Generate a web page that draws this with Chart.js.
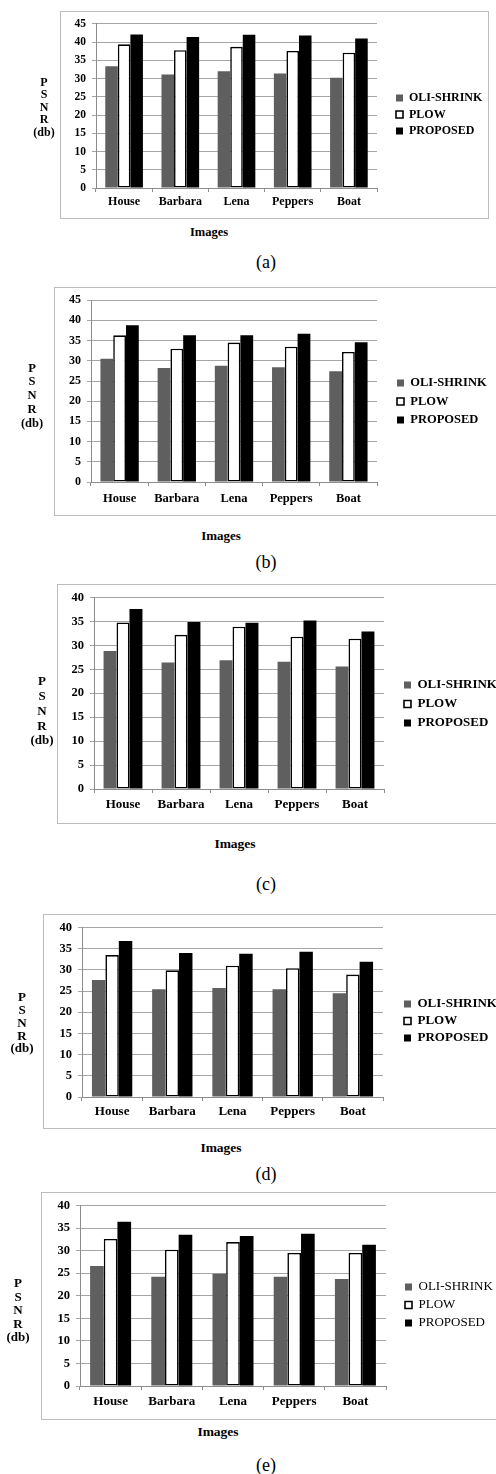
<!DOCTYPE html>
<html>
<head>
<meta charset="utf-8">
<title>PSNR comparison</title>
<script src="https://cdn.jsdelivr.net/npm/chart.js@4.4.1/dist/chart.umd.min.js"></script>
<style>
  html, body { margin: 0; padding: 0; background: #fff; }
  body { width: 496px; height: 1474px; position: relative; overflow: hidden; font-family: "Liberation Serif", "Times New Roman", serif; color: #000; }
  .frame { position: absolute; box-sizing: border-box; border: 1.5px solid #bdbdbd; }
  .wrap { position: absolute; }
  .txt { position: absolute; text-align: center; white-space: pre-line; }
</style>
</head>
<body>
<script>
// ---- data ----
const categories = ['House', 'Barbara', 'Lena', 'Peppers', 'Boat'];
const seriesNames = ['OLI-SHRINK', 'PLOW', 'PROPOSED'];
const yTitleLines = ['P', 'S', 'N', 'R', '(db)'];
const xTitle = 'Images';
const captions = ['(a)', '(b)', '(c)', '(d)', '(e)'];
const yMax = [45, 45, 40, 40, 40];
const yStep = 5;

const oliShrinkA = [33.4, 31.1, 32.0, 31.4, 30.2];
const plowA      = [39.4, 37.8, 38.7, 37.6, 37.1];
const proposedA  = [42.1, 41.4, 42.0, 41.8, 41.0];

const oliShrinkB = [30.5, 28.2, 28.8, 28.4, 27.4];
const plowB      = [36.3, 33.0, 34.5, 33.5, 32.2];
const proposedB  = [38.8, 36.3, 36.3, 36.7, 34.6];

const oliShrinkC = [28.8, 26.4, 26.9, 26.6, 25.6];
const plowC      = [34.8, 32.2, 33.9, 31.8, 31.4];
const proposedC  = [37.6, 34.9, 34.7, 35.2, 32.9];

const oliShrinkD = [27.6, 25.4, 25.7, 25.4, 24.5];
const plowD      = [33.5, 29.9, 31.0, 30.4, 28.9];
const proposedD  = [36.8, 34.0, 33.8, 34.3, 31.9];

const oliShrinkE = [26.6, 24.2, 24.9, 24.2, 23.7];
const plowE      = [32.6, 30.2, 31.9, 29.5, 29.5];
const proposedE  = [36.4, 33.5, 33.25, 33.75, 31.3];

const seriesByPanel = [
  [oliShrinkA, plowA, proposedA],
  [oliShrinkB, plowB, proposedB],
  [oliShrinkC, plowC, proposedC],
  [oliShrinkD, plowD, proposedD],
  [oliShrinkE, plowE, proposedE],
];

// ---- layout of each panel on the page (frame, plot area, legend, labels) ----
const panels = [
  { frame: [60, 11, 489, 219],  area: [96, 21, 377, 188],   legend: [396, 98, 16.5],  legendBold: true,
    font: 12,   yTitle: [44, 57, 12.5],  xTitlePos: [209, 232],  capPos: [266, 262], xPad: 3 },
  { frame: [54, 287, 500, 516], area: [91, 299, 377, 482],  legend: [397, 383, 18.5], legendBold: true,
    font: 12.5, yTitle: [32, 341, 13.8], xTitlePos: [221, 536],  capPos: [266, 562], xPad: 5 },
  { frame: [57, 584, 500, 824], area: [94, 596, 384, 789],  legend: [404, 685, 19],   legendBold: true,
    font: 13,   yTitle: [42, 652, 14.8], xTitlePos: [235, 844],  capPos: [266, 884], xPad: 4 },
  { frame: [43, 914, 500, 1129], area: [82, 924, 383, 1097], legend: [404, 1004, 17], legendBold: true,
    font: 13,   yTitle: [22, 972, 12.8], xTitlePos: [221, 1148], capPos: [266, 1174], xPad: 3 },
  { frame: [41, 1192, 500, 1420], area: [80, 1203, 386, 1386], legend: [405, 1287, 18], legendBold: false,
    font: 13,   yTitle: [18, 1256, 13.5], xTitlePos: [218, 1432], capPos: [266, 1465], xPad: 4 },
];

const LEGEND_W = 10;
const SERIF = '"Liberation Serif", "Times New Roman", serif';

Chart.defaults.font.family = SERIF;
Chart.defaults.color = '#000';

// puts the legend items where the original has them
const placeLegend = {
  id: 'placeLegend',
  afterLayout(chart, args, opts) {
    const lg = chart.legend;
    if (!lg) return;
    lg.left = opts.x - opts.pad;
    lg.right = chart.width;
    lg.width = lg.right - lg.left;
    lg.top = opts.y - opts.size / 2 - opts.pad;
    lg.bottom = chart.height;
    lg.height = lg.bottom - lg.top;
  }
};

function addText(text, cx, cy, size, lh, weight) {
  const d = document.createElement('div');
  d.className = 'txt';
  d.textContent = text;
  d.style.left = (cx - 60) + 'px';
  d.style.width = '120px';
  d.style.top = (cy - lh / 2) + 'px';
  d.style.lineHeight = lh + 'px';
  d.style.fontSize = size + 'px';
  d.style.fontWeight = weight;
  document.body.appendChild(d);
}

panels.forEach((p, i) => {
  const [fl, ft, fr, fb] = p.frame;
  const [al, at, ar, ab] = p.area;
  const W = Math.min(fr, 496) - fl;
  const H = fb - ft;

  const frame = document.createElement('div');
  frame.className = 'frame';
  frame.style.left = fl + 'px';
  frame.style.top = ft + 'px';
  frame.style.width = (fr - fl) + 'px';
  frame.style.height = H + 'px';
  document.body.appendChild(frame);

  const wrap = document.createElement('div');
  wrap.className = 'wrap';
  wrap.style.left = fl + 'px';
  wrap.style.top = ft + 'px';
  wrap.style.width = W + 'px';
  wrap.style.height = H + 'px';
  const canvas = document.createElement('canvas');
  wrap.appendChild(canvas);
  document.body.appendChild(wrap);

  const [oli, plow, prop] = seriesByPanel[i];
  const tickFont = { family: SERIF, size: p.font - 0.5, weight: 'bold' };
  const catFont = { family: SERIF, size: p.font, weight: 'bold' };
  const legFont = { family: SERIF, size: p.font, weight: p.legendBold ? 'bold' : 'normal' };
  const legPad = p.legend[2] - p.font;

  new Chart(canvas, {
    type: 'bar',
    data: {
      labels: categories,
      datasets: [
        { label: seriesNames[0], data: oli, backgroundColor: '#5f5f5f', borderWidth: 0 },
        { label: seriesNames[1], data: plow, backgroundColor: '#ffffff', borderColor: '#000000', borderWidth: 1.6, borderSkipped: false },
        { label: seriesNames[2], data: prop, backgroundColor: '#000000', borderWidth: 0 },
      ],
    },
    options: {
      responsive: true,
      maintainAspectRatio: false,
      animation: false,
      events: [],
      layout: {
        padding: { left: 0, top: at - ft, right: W - (ar - fl) - LEGEND_W, bottom: 0 },
      },
      datasets: { bar: { categoryPercentage: 0.67, barPercentage: 1 } },
      scales: {
        x: {
          grid: { drawOnChartArea: false, offset: true, tickLength: 4, color: '#8c8c8c' },
          border: { color: '#8c8c8c' },
          ticks: { font: catFont, color: '#000', padding: p.xPad, maxRotation: 0 },
          afterFit(scale) { scale.height = fb - ab; },
        },
        y: {
          min: 0,
          max: yMax[i],
          ticks: { stepSize: yStep, font: tickFont, color: '#000', padding: 6 },
          grid: { color: '#a6a6a6', tickLength: 4 },
          border: { color: '#8c8c8c' },
          afterFit(scale) { scale.width = al - fl; },
        },
      },
      plugins: {
        legend: {
          position: 'right',
          align: 'start',
          maxWidth: LEGEND_W,
          labels: {
            boxWidth: 7,
            boxHeight: 7,
            padding: legPad,
            color: '#000',
            font: legFont,
          },
        },
        tooltip: { enabled: false },
        placeLegend: { x: p.legend[0] - fl, y: p.legend[1] - ft, size: p.font, pad: legPad },
      },
    },
    plugins: [placeLegend],
  });

  const [yx, yy, ylh] = p.yTitle;
  addText(yTitleLines.join('\n'), yx, yy + (ylh * (yTitleLines.length - 1)) / 2, p.font, ylh, 'bold');
  addText(xTitle, p.xTitlePos[0], p.xTitlePos[1], p.font + 0.5, 16, 'bold');
  addText(captions[i], p.capPos[0], p.capPos[1], 18, 20, 'normal');
});
</script>
</body>
</html>
